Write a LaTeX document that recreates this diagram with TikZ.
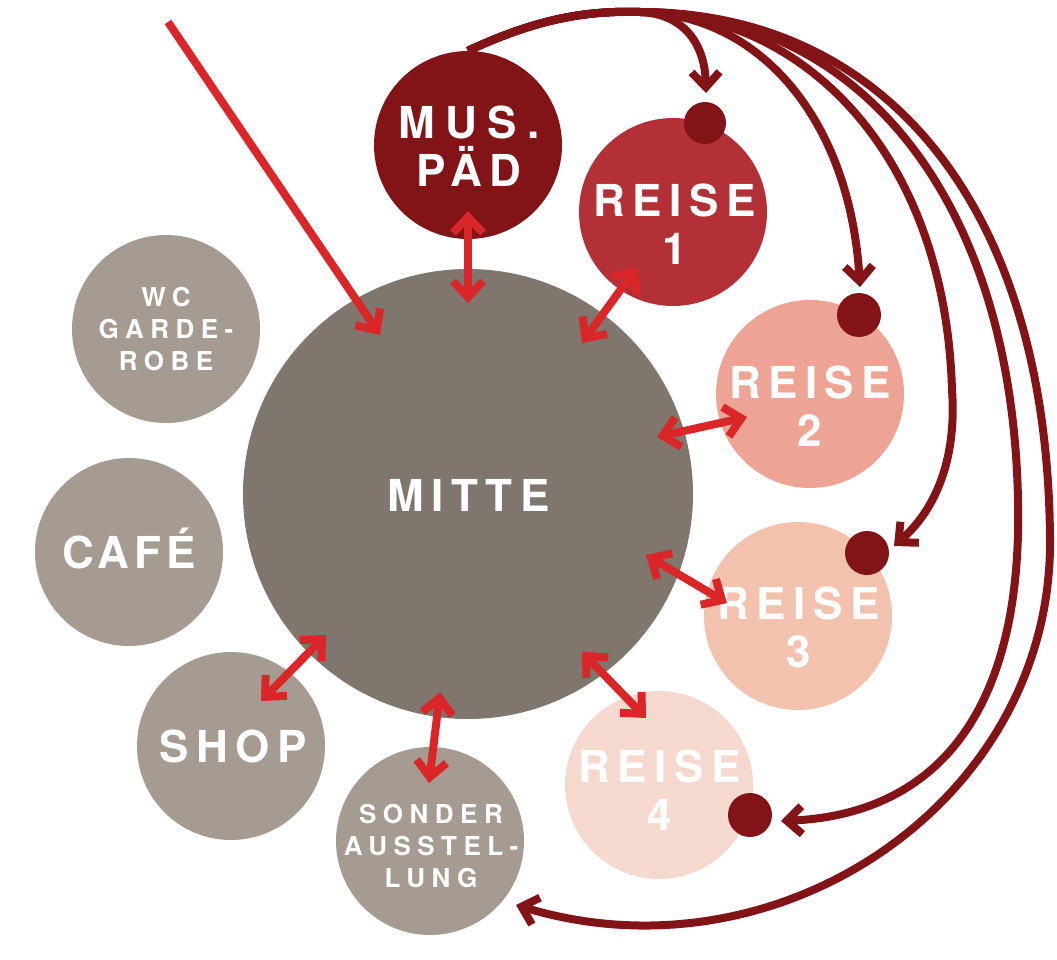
\documentclass[tikz,border=0pt]{standalone}
\usepackage{fontspec}
\setmainfont{TeX Gyre Heros}
\newfontfamily\lblfont[LetterSpace=17]{TeX Gyre Heros}
\newfontfamily\smlfont[LetterSpace=25]{TeX Gyre Heros}
\usetikzlibrary{arrows.meta}
\definecolor{dred}{HTML}{821418}
\definecolor{rone}{HTML}{B33036}
\definecolor{rtwo}{HTML}{EEA494}
\definecolor{rthree}{HTML}{F2C2AE}
\definecolor{rfour}{HTML}{F6D9CE}
\definecolor{mid}{HTML}{7F766D}
\definecolor{side}{HTML}{A69B90}
\definecolor{cred}{HTML}{DA2628}
\tikzset{
  circ/.style={circle, minimum size=188pt, inner sep=0pt, draw=none},
  bigcirc/.style={circle, minimum size=450pt, inner sep=0pt, draw=none, fill=mid},
  dotc/.style={circle, minimum size=44pt, inner sep=0pt, draw=none, fill=dred},
  lbl/.style={text=white, align=center, inner sep=0pt, font=\lblfont\bfseries\fontsize{44}{48}\selectfont},
  sml/.style={text=white, align=center, inner sep=0pt, font=\smlfont\bfseries\fontsize{26}{32}\selectfont},
  redarr/.style={draw=cred, line width=8pt, {Straight Barb[length=16pt,width=30pt]}-{Straight Barb[length=16pt,width=30pt]}},
  redone/.style={draw=cred, line width=8pt, -{Straight Barb[length=16pt,width=30pt]}},
  darr/.style={draw=dred, line width=8pt, -{Straight Barb[length=15pt,width=28pt]}}
}
\begin{document}
\begin{tikzpicture}[x=1pt,y=-1pt]
\useasboundingbox (0,0) rectangle (1057,960);
% circles
\node[bigcirc] (mitte) at (468,494) {};
\node[circ, fill=dred] (mus) at (468,145) {};
\node[circ, fill=rone] (r1) at (673,212) {};
\node[circ, fill=rtwo] (r2) at (810,394) {};
\node[circ, fill=rthree] (r3) at (798,616) {};
\node[circ, fill=rfour] (r4) at (659,785) {};
\node[circ, fill=side] (sonder) at (430,841) {};
\node[circ, fill=side] (shop) at (231,746) {};
\node[circ, fill=side] (cafe) at (129,552) {};
\node[circ, fill=side] (wc) at (166,329) {};
% dots
\node[dotc, minimum size=42pt] (d1) at (705,123) {};
\node[dotc] (d2) at (859,315) {};
\node[dotc] (d3) at (867,553) {};
\node[dotc] (d4) at (750,815) {};
% labels
\node[lbl, anchor=base] (mitteT) at (468.5,511) {MITTE};
\node[lbl] (musT) at (469,146) {{\addfontfeature{LetterSpace=24}MUS.}\\PÄD};
\node[lbl] (r1T) at (674.5,224.5) {REISE\\1};
\node[lbl] (r2T) at (810,406.5) {REISE\\2};
\node[lbl] (r3T) at (798.5,627) {REISE\\3};
\node[lbl] (r4T) at (659.5,790) {REISE\\4};
\node[lbl, anchor=base] (cafeT) at (129,568) {\addfontfeature{LetterSpace=11}CAFÉ};
\node[lbl, anchor=base] (shopT) at (233,762) {SHOP};
\node[sml] (wcT) at (166,329.5) {WC\\GARDE-\\ROBE};
\node[sml] (sonderT) at (431,846.5) {SONDER\\AUSSTEL-\\LUNG};
% red arrow ends
\coordinate (s0) at (168,22);
\coordinate (s1) at (380,335);
\coordinate (a1) at (468,211);
\coordinate (a2) at (468,303);
\coordinate (b1) at (582,343);
\coordinate (b2) at (637,267);
\coordinate (c1) at (657,437);
\coordinate (c2) at (747,417);
\coordinate (e1) at (646,555);
\coordinate (e2) at (727,603);
\coordinate (f1) at (582,652);
\coordinate (f2) at (646,718);
\coordinate (g1) at (440,692);
\coordinate (g2) at (429,783);
\coordinate (h1) at (326,635);
\coordinate (h2) at (261,701);
\draw[redone] (s0) -- (s1);
\draw[redarr] (a1) -- (a2);
\draw[redarr] (b1) -- (b2);
\draw[redarr] (c1) -- (c2);
\draw[redarr] (e1) -- (e2);
\draw[redarr] (f1) -- (f2);
\draw[redarr] (g1) -- (g2);
\draw[redarr] (h1) -- (h2);
% dark curves
\coordinate (p) at (640,12);
\coordinate (ta) at (706,93);
\coordinate (tb) at (860,287);
\coordinate (qc) at (952,390);
\coordinate (tc) at (894,546);
\coordinate (qd) at (1018,500);
\coordinate (td) at (781,821);
\coordinate (qe) at (1050,540);
\coordinate (te) at (516,905);
\draw[darr] (mus.north) .. controls (530,22) and (580,10) .. (p) .. controls (685,14) and (705,45) .. (ta);
\draw[darr] (mus.north) .. controls (530,22) and (580,10) .. (p) .. controls (760,14) and (850,120) .. (tb);
\draw[darr] (mus.north) .. controls (530,22) and (580,10) .. (p) .. controls (800,12) and (945,150) .. (qc) .. controls (957,460) and (935,510) .. (tc);
\draw[darr] (mus.north) .. controls (530,22) and (580,10) .. (p) .. controls (860,12) and (1012,200) .. (qd) .. controls (1023,720) and (930,815) .. (td);
\draw[darr] (mus.north) .. controls (530,22) and (580,10) .. (p) .. controls (880,12) and (1048,200) .. (qe) .. controls (1052,800) and (780,985) .. (te);
\end{tikzpicture}
\end{document}
